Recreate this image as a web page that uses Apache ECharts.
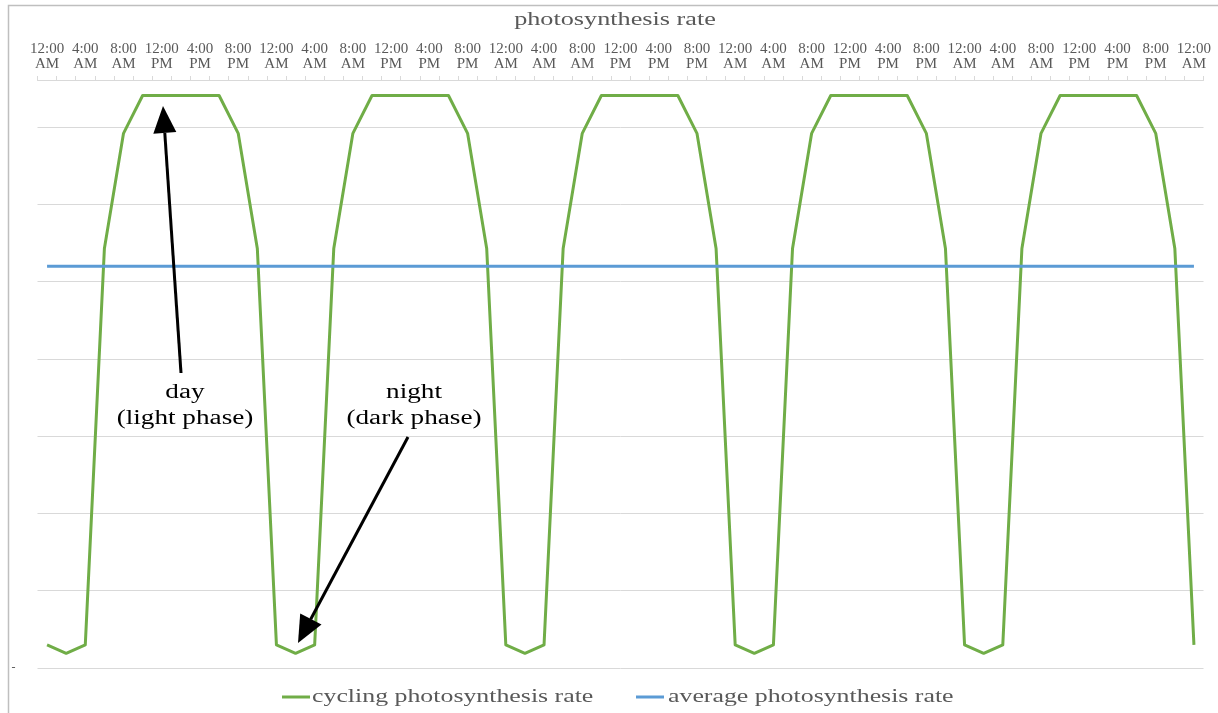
<!DOCTYPE html>
<html>
<head>
<meta charset="utf-8">
<script src="https://cdn.jsdelivr.net/npm/echarts@6/dist/echarts.min.js"></script>
<style>
html,body{margin:0;padding:0;background:#fff;}
#chart{width:1218px;height:713px;}
</style>
</head>
<body>
<div id="chart"></div>
<script>
const categories = [
  "12:00 AM","2:00 AM","4:00 AM","6:00 AM","8:00 AM","10:00 AM","12:00 PM","2:00 PM","4:00 PM","6:00 PM","8:00 PM","10:00 PM",
  "12:00 AM","2:00 AM","4:00 AM","6:00 AM","8:00 AM","10:00 AM","12:00 PM","2:00 PM","4:00 PM","6:00 PM","8:00 PM","10:00 PM",
  "12:00 AM","2:00 AM","4:00 AM","6:00 AM","8:00 AM","10:00 AM","12:00 PM","2:00 PM","4:00 PM","6:00 PM","8:00 PM","10:00 PM",
  "12:00 AM","2:00 AM","4:00 AM","6:00 AM","8:00 AM","10:00 AM","12:00 PM","2:00 PM","4:00 PM","6:00 PM","8:00 PM","10:00 PM",
  "12:00 AM","2:00 AM","4:00 AM","6:00 AM","8:00 AM","10:00 AM","12:00 PM","2:00 PM","4:00 PM","6:00 PM","8:00 PM","10:00 PM",
  "12:00 AM"
];
const cyclingRate = [
  0.3,0.19,0.3,5.43,6.92,7.41,7.41,7.41,7.41,7.41,6.92,5.43,
  0.3,0.19,0.3,5.43,6.92,7.41,7.41,7.41,7.41,7.41,6.92,5.43,
  0.3,0.19,0.3,5.43,6.92,7.41,7.41,7.41,7.41,7.41,6.92,5.43,
  0.3,0.19,0.3,5.43,6.92,7.41,7.41,7.41,7.41,7.41,6.92,5.43,
  0.3,0.19,0.3,5.43,6.92,7.41,7.41,7.41,7.41,7.41,6.92,5.43,
  0.3
];
const averageRate = [
  5.2,5.2,5.2,5.2,5.2,5.2,5.2,5.2,5.2,5.2,5.2,5.2,
  5.2,5.2,5.2,5.2,5.2,5.2,5.2,5.2,5.2,5.2,5.2,5.2,
  5.2,5.2,5.2,5.2,5.2,5.2,5.2,5.2,5.2,5.2,5.2,5.2,
  5.2,5.2,5.2,5.2,5.2,5.2,5.2,5.2,5.2,5.2,5.2,5.2,
  5.2,5.2,5.2,5.2,5.2,5.2,5.2,5.2,5.2,5.2,5.2,5.2,
  5.2
];
const seriesNames = ["cycling photosynthesis rate", "average photosynthesis rate"];
const seriesColors = ["#70ad47", "#5b9bd5"];
const titleText = "photosynthesis rate";

const FONT = '"Liberation Serif", "DejaVu Serif", serif';
const GRAY = '#595959';

const chart = echarts.init(document.getElementById('chart'), null, {renderer: 'canvas'});

function wideText(text, x, y, size, color, sx, align, vAlign, lh) {
  return {
    type: 'text', x: x, y: y, scaleX: sx, z: 100, silent: true,
    style: {text: text, x: 0, y: 0, align: align, verticalAlign: vAlign,
      font: size + 'px ' + FONT, lineHeight: lh || size, fill: color}
  };
}

const option = {
  animation: false,
  backgroundColor: '#fff',
  grid: {left: 37.5, right: 14.5, top: 80, bottom: 45, containLabel: false},
  xAxis: {
    type: 'category',
    position: 'top',
    boundaryGap: true,
    data: categories,
    axisLine: {show: true, onZero: false, lineStyle: {color: '#d9d9d9', width: 1}},
    axisTick: {show: true, interval: 0, length: 4, lineStyle: {color: '#d9d9d9'}},
    axisLabel: {
      interval: 1,
      margin: 8,
      fontFamily: FONT, fontSize: 15, lineHeight: 15, color: GRAY,
      formatter: v => v.replace(' ', '\n')
    },
    splitLine: {show: false}
  },
  yAxis: {
    type: 'value',
    min: 0, max: 7.61, interval: 1,
    axisLine: {show: false},
    axisTick: {show: false},
    axisLabel: {
      margin: 22, fontFamily: FONT, fontSize: 12, color: GRAY,
      formatter: v => v === 0 ? '-' : ''
    },
    splitLine: {show: true, lineStyle: {color: '#d9d9d9', width: 1}}
  },
  series: [
    {
      name: seriesNames[0], type: 'line', data: cyclingRate,
      symbol: 'none', smooth: false,
      lineStyle: {color: seriesColors[0], width: 3, join: 'round'},
      itemStyle: {color: seriesColors[0]}
    },
    {
      name: seriesNames[1], type: 'line', data: averageRate,
      symbol: 'none',
      lineStyle: {color: seriesColors[1], width: 3},
      itemStyle: {color: seriesColors[1]}
    }
  ],
  graphic: [
    {type: 'rect', shape: {x: 8.5, y: 5.5, width: 1220, height: 720}, style: {fill: 'none', stroke: '#bfbfbf', lineWidth: 1.5}, z: 100, silent: true},
    // title
    wideText(titleText, 615, 11, 19, GRAY, 1.38, 'center', 'top'),
    // legend
    {type: 'rect', shape: {x: 282, y: 695.5, width: 28, height: 3}, style: {fill: seriesColors[0]}, z: 100, silent: true},
    wideText(seriesNames[0], 312, 697, 19, GRAY, 1.36, 'left', 'middle'),
    {type: 'rect', shape: {x: 636, y: 695.5, width: 28, height: 3}, style: {fill: seriesColors[1]}, z: 100, silent: true},
    wideText(seriesNames[1], 668, 697, 19, GRAY, 1.36, 'left', 'middle'),
    // day arrow
    {type: 'line', shape: {x1: 181, y1: 373, x2: 164.8, y2: 133}, style: {stroke: '#000', lineWidth: 3}, z: 100},
    {type: 'polygon', shape: {points: [[163, 106], [176.3, 132.1], [153.3, 133.7]]}, style: {fill: '#000'}, z: 100},
    wideText('day\n(light phase)', 185, 380, 20, '#000', 1.36, 'center', 'top', 26),
    // night arrow
    {type: 'line', shape: {x1: 408, y1: 437, x2: 310.7, y2: 619.2}, style: {stroke: '#000', lineWidth: 3}, z: 100},
    {type: 'polygon', shape: {points: [[298, 643], [321.5, 624.5], [300.2, 613.5]]}, style: {fill: '#000'}, z: 100},
    wideText('night\n(dark phase)', 414, 380, 20, '#000', 1.36, 'center', 'top', 26)
  ]
};
chart.setOption(option);
</script>
</body>
</html>
